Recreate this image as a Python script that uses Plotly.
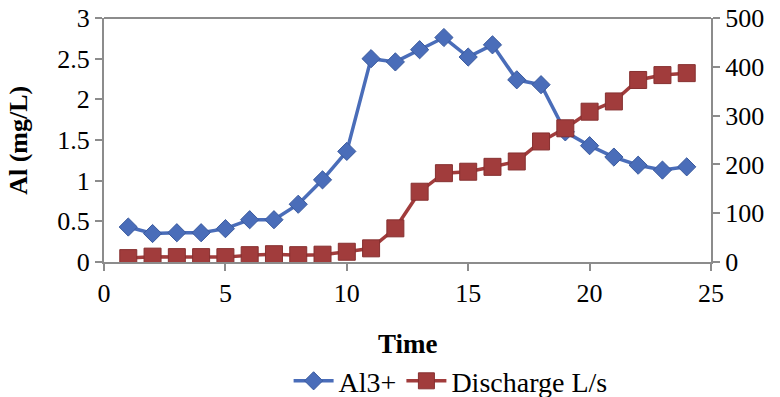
import plotly.graph_objects as go

# Sampling times
time = list(range(1, 25))

# Aluminium concentration (mg/L)
al3 = [0.43, 0.35, 0.36, 0.36, 0.41, 0.52, 0.52, 0.71, 1.01, 1.36,
       2.50, 2.46, 2.61, 2.76, 2.52, 2.67, 2.24, 2.18, 1.60, 1.43,
       1.29, 1.19, 1.13, 1.17]

# Discharge (L/s)
discharge = [8, 11, 10, 10, 10, 14, 16, 14, 15, 21,
             28, 69, 144, 182, 185, 195, 206, 247, 274, 308,
             329, 373, 383, 387]

x_ticks = [0, 5, 10, 15, 20, 25]
left_ticks = [0, 0.5, 1, 1.5, 2, 2.5, 3]
left_labels = ["0", "0.5", "1", "1.5", "2", "2.5", "3"]
right_ticks = [0, 100, 200, 300, 400, 500]

FONT = "Liberation Serif, Times New Roman, serif"
BLUE = "#4A6DB9"
RED = "#A13C3C"
GRID = "#8C8C8C"

fig = go.Figure()

fig.add_trace(go.Scatter(
    x=time, y=al3, name="Al3+", mode="lines+markers",
    line=dict(color=BLUE, width=3.5),
    marker=dict(symbol="diamond", size=14, color=BLUE,
                line=dict(color="#3A5A9E", width=1)),
))

fig.add_trace(go.Scatter(
    x=time, y=discharge, name="Discharge L/s", mode="lines+markers",
    yaxis="y2",
    line=dict(color=RED, width=3.5),
    marker=dict(symbol="square", size=17, color=RED,
                line=dict(color="#863030", width=1)),
))

axis_common = dict(
    showgrid=False, zeroline=False, showline=True, linecolor=GRID,
    linewidth=2, ticks="outside", tickcolor=GRID, ticklen=7, tickwidth=2,
    automargin=False,
    tickfont=dict(family=FONT, size=26, color="#000000"),
)

fig.update_layout(
    width=780, height=397,
    margin=dict(l=104, r=69, t=18, b=135),
    paper_bgcolor="white", plot_bgcolor="white",
    font=dict(family=FONT, size=26, color="#000000"),
    xaxis=dict(range=[0, 25], tickvals=x_ticks, mirror=False, **axis_common),
    yaxis=dict(range=[0, 3], tickvals=left_ticks, ticktext=left_labels,
               **axis_common),
    yaxis2=dict(range=[0, 500], tickvals=right_ticks, overlaying="y",
                side="right", **axis_common),
    showlegend=True,
    legend=dict(orientation="h", xref="container", yref="container",
                x=0.37, xanchor="left", y=0.04, yanchor="middle",
                font=dict(family=FONT, size=28, color="#000000"),
                itemwidth=40, tracegroupgap=0,
                bgcolor="rgba(0,0,0,0)"),
    shapes=[dict(type="line", xref="paper", yref="paper", x0=0, x1=1,
                 y0=1, y1=1, line=dict(color=GRID, width=2))],
    annotations=[
        dict(text="<b>Time</b>", xref="paper", yref="paper", x=0.5,
             y=-0.335, yanchor="middle", showarrow=False,
             font=dict(family=FONT, size=27, color="#000000")),
        dict(text="<b>Al (mg/L)</b>", xref="paper", yref="paper",
             x=-0.142, y=0.5, xanchor="center", yanchor="middle",
             textangle=-90, showarrow=False,
             font=dict(family=FONT, size=26, color="#000000")),
    ],
)

fig.write_html("out.html")
